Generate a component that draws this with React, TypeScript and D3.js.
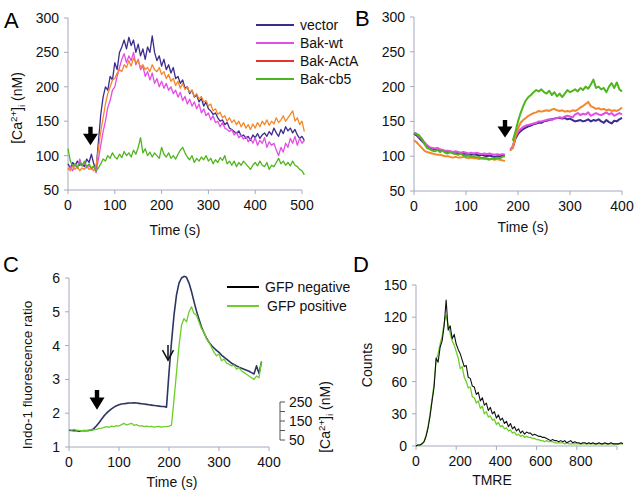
import React from "react";
import * as d3 from "d3";

// ---------- Panel A data (t = 0..505 s, step 5) ----------
const A_STEP = 5;
const A_VECTOR = [
  88, 82, 90, 85, 92, 86, 88, 84, 95, 90,
  102, 88, 80, 120, 160, 185, 200, 195, 215, 210,
  235, 225, 250, 258, 268, 255, 272, 260, 268, 250,
  262, 245, 255, 240, 258, 250, 274, 250, 238, 245,
  230, 240, 225, 232, 220, 228, 212, 215, 205, 210,
  198, 200, 190, 195, 185, 188, 178, 183, 172, 178,
  168, 165, 160, 162, 155, 150, 152, 145, 148, 140,
  138, 135, 132, 136, 128, 130, 125, 128, 122, 130,
  126, 132, 125, 130, 133, 128, 135, 130, 140, 133,
  128, 138, 132, 142, 136, 140, 133, 138, 130, 125,
  128, 122,
];
const A_BAKWT = [
  80, 84, 78, 88, 82, 95, 85, 90, 82, 86,
  80, 84, 75, 95, 115, 135, 150, 170, 180, 195,
  200, 215, 228, 240, 248, 235, 245, 238, 250, 232,
  240, 225, 230, 215, 222, 210, 220, 205, 212, 200,
  208, 198, 205, 195, 200, 190, 195, 185, 192, 180,
  186, 175, 182, 172, 178, 168, 175, 162, 168, 158,
  162, 152, 158, 148, 150, 142, 148, 140, 138, 135,
  138, 130, 134, 126, 130, 124, 128, 120, 125, 118,
  126, 115, 122, 118, 126, 112, 120, 115, 118, 108,
  100, 112, 105, 118, 112, 125, 118, 128, 115, 125,
  118, 122,
];
const A_ACTA = [
  82, 78, 85, 80, 84, 78, 82, 80, 85, 80,
  82, 78, 85, 110, 135, 155, 175, 190, 200, 210,
  212, 220, 225, 222, 232, 228, 238, 230, 242, 235,
  238, 228, 232, 225, 228, 222, 232, 225, 222, 228,
  218, 222, 212, 218, 208, 212, 202, 208, 198, 205,
  196, 200, 192, 195, 186, 190, 182, 186, 178, 180,
  172, 175, 165, 168, 160, 163, 155, 158, 150, 155,
  148, 152, 145, 150, 142, 148, 140, 145, 138, 146,
  140, 148, 142, 150, 145, 152, 144, 150, 146, 155,
  148, 152, 158, 150, 155, 160, 165, 150, 155, 145,
  150, 135,
];
const A_CB5 = [
  110, 92, 85, 88, 82, 90, 85, 92, 84, 88,
  82, 85, 78, 82, 88, 95, 92, 100, 96, 104,
  98, 95, 102, 97, 106, 100, 104, 98, 108, 102,
  112, 126, 104, 110, 100, 105, 98, 104, 100, 96,
  112, 102, 98, 104, 96, 100, 95, 102, 108, 112,
  104, 98, 94, 100, 90, 96, 92, 98, 94, 100,
  92, 96, 88, 94, 90, 97, 93, 100, 88, 92,
  86, 92, 84, 90, 86, 92, 88, 84, 80, 86,
  90, 85, 92, 86, 84, 90, 80, 86, 84, 90,
  96, 88, 92, 86, 90, 85, 92, 86, 84, 80,
  78, 72,
];
const A_X_TICKS = [0, 100, 200, 300, 400, 500];
const A_Y_TICKS = [50, 100, 150, 200, 250, 300];
const A_ARROW = { t: 48, from: 142, to: 115 };

// ---------- Panel B data (t = 0..400 s, step 5) ----------
const B_STEP = 5;
const B_VECTOR = [
  132, 130, 126, 122, 118, 114, 112, 111, 110, 109,
  108, 108, 107, 106, 106, 105, 104, 105, 104, 103,
  104, 103, 102, 103, 102, 101, 102, 101, 100, 101,
  100, 99, 100, 100, 101, 101, null, 110, 112, 125,
  132, 136, 139, 141, 143, 144, 146, 147, 148, 148,
  150, 151, 152, 153, 154, 155, 155, 154, 155, 153,
  154, 152, 150, 151, 152, 150, 151, 153, 150, 152,
  151, 153, 150, 148, 152, 149, 147, 151, 150, 153,
  155,
];
const B_BAKWT = [
  134, 132, 128, 125, 120, 116, 113, 112, 111, 112,
  110, 109, 108, 108, 107, 106, 107, 106, 105, 106,
  105, 104, 105, 104, 105, 104, 103, 104, 103, 104,
  103, 102, 103, 102, 103, 102, null, 108, 115, 128,
  135, 139, 142, 144, 145, 146, 147, 148, 150, 150,
  151, 152, 153, 152, 154, 155, 156, 155, 157, 158,
  157, 156, 160, 162, 159, 161, 160, 163, 158, 160,
  162, 160, 159, 161, 163, 160, 162, 158, 160, 162,
  160,
];
const B_ACTA = [
  123, 120, 116, 112, 108, 106, 105, 104, 103, 102,
  102, 101, 100, 100, 99, 98, 99, 98, 98, 99,
  98, 97, 98, 97, 97, 96, 97, 96, 97, 96,
  96, 95, 96, 95, 94, 93, null, 108, 112, 128,
  140, 148, 152, 155, 158, 160, 162, 163, 165, 164,
  165, 166, 165, 167, 168, 166, 165, 166, 164, 165,
  164, 166, 165, 167, 170, 172, 175, 178, 172, 170,
  168, 169, 167, 168, 166, 167, 165, 166, 165, 167,
  170,
];
const B_CB5 = [
  133, 132, 130, 125, 118, 112, 110, 108, 107, 109,
  106, 108, 105, 104, 106, 104, 103, 102, 104, 101,
  100, 101, 99, 100, 98, 99, 97, 98, 96, 95,
  97, 96, 98, 97, 99, 100, null, null, 122, 135,
  150, 162, 172, 180, 185, 188, 192, 195, 193, 196,
  192, 190, 194, 188, 192, 186, 190, 185, 190, 195,
  192, 194, 196, 193, 198, 195, 200, 197, 203, 210,
  198, 200, 196, 198, 192, 200, 205, 198, 206, 196,
  193,
];
const B_X_TICKS = [0, 100, 200, 300, 400];
const B_Y_TICKS = [50, 100, 150, 200, 250, 300];
const B_ARROW = { t: 175, from: 152, to: 127 };

// ---------- Panel C data (t = 0..385 s, step 5) ----------
const C_STEP = 5;
const C_GFP_NEG = [
  1.5, 1.49, 1.48, 1.48, 1.47, 1.48, 1.48, 1.48, 1.49, 1.5,
  1.55, 1.63, 1.72, 1.82, 1.92, 2.0, 2.07, 2.13, 2.18, 2.22,
  2.25, 2.27, 2.28, 2.29, 2.3, 2.3, 2.31, 2.3, 2.29, 2.28,
  2.27, 2.26, 2.25, 2.24, 2.23, 2.22, 2.21, 2.2, 2.2, 2.18,
  3.2, 4.1, 4.9, 5.5, 5.85, 6.0, 6.05, 6.02, 5.85, 5.6,
  5.3, 5.02, 4.78, 4.55, 4.38, 4.22, 4.1, 4.0, 3.93, 3.86,
  3.8, 3.72, 3.66, 3.6, 3.54, 3.48, 3.44, 3.4, 3.36, 3.33,
  3.3, 3.27, 3.24, 3.2, 3.16, 3.4, 3.18, 3.52,
];
const C_GFP_POS = [
  1.52, 1.5, 1.52, 1.5, 1.49, 1.48, 1.5, 1.49, 1.5, 1.5,
  1.51, 1.52, 1.55, 1.56, 1.58, 1.6, 1.58, 1.62, 1.6, 1.63,
  1.62, 1.66, 1.7, 1.65, 1.68, 1.7, 1.64, 1.66, 1.62, 1.63,
  1.6, 1.62, 1.6, 1.61, 1.59, 1.6, 1.61, 1.59, 1.6, 1.6,
  1.62, 1.65, 2.4, 3.2, 4.0, 4.6, 4.8, 4.7, 5.0, 5.15,
  4.95, 4.9, 4.7, 4.5, 4.4, 4.2, 4.1, 3.95, 3.8, 3.7,
  3.75, 3.55, 3.6, 3.48, 3.45, 3.4, 3.42, 3.3, 3.35, 3.25,
  3.2, 3.15, 3.1, 3.05, 3.0, 3.1, 3.05, 3.55,
];
const C_X_TICKS = [0, 100, 200, 300, 400];
const C_Y_TICKS = [1, 2, 3, 4, 5, 6];
const C_CA_TICKS = [50, 100, 150, 200, 250];
const C_CA_LABELS = [50, 150, 250];
const C_ARROW_FILLED = { t: 56, from: 2.69, to: 2.1 };
const C_ARROW_OPEN = { t: 198, from: 4.02, to: 3.57 };

// ---------- Panel D data (TMRE = 0..1030, step 10) ----------
const D_STEP = 10;
const D_NEG = [
  0, 1, 1, 2, 4, 9, 17, 28, 42, 55,
  82, 78, 92, 98, 112, 136, 108, 112, 100, 104,
  95, 90, 86, 80, 74, 75, 64, 63, 56, 55,
  48, 50, 42, 45, 38, 40, 33, 36, 30, 32,
  26, 29, 24, 26, 21, 23, 18, 21, 16, 18,
  14, 16, 12, 14, 11, 13, 12, 12, 10, 11,
  10, 9, 9, 8, 8, 7, 6, 5, 6, 5,
  5, 4, 5, 4, 5, 3, 4, 5, 3, 4,
  3, 3, 2, 3, 3, 2, 3, 2, 3, 2,
  2, 3, 2, 2, 3, 2, 2, 3, 2, 2,
  2, 2, 3, 2,
];
const D_POS = [
  0, 1, 1, 2, 4, 10, 18, 30, 44, 58,
  80, 86, 95, 102, 115, 122, 112, 105, 98, 94,
  88, 82, 72, 74, 64, 60, 54, 55, 46, 45,
  40, 42, 35, 37, 30, 32, 27, 28, 24, 25,
  20, 22, 18, 19, 16, 17, 14, 15, 12, 13,
  10, 11, 9, 10, 8, 9, 8, 8, 7, 7,
  6, 6, 5, 5, 4, 5, 4, 4, 4, 3,
  3, 3, 3, 3, 2, 3, 2, 2, 2, 2,
  2, 2, 2, 2, 2, 2, 2, 2, 2, 2,
  2, 2, 2, 2, 2, 2, 2, 2, 2, 2,
  2, 2, 2, 2,
];
const D_X_TICKS = [0, 200, 400, 600, 800, 1000];
const D_X_LABELS = [0, 200, 400, 600, 800];
const D_Y_TICKS = [0, 30, 60, 90, 120, 150];

// ---------- styling ----------
const FONT = "'Liberation Sans', Arial, Helvetica, sans-serif";
const AXIS = "#a3aabb";
const C_NAVY = "#3b2c8e";
const C_MAGENTA = "#e34fe6";
const C_RED = "#e5322c";
const C_ORANGE = "#f4872a";
const C_GREEN = "#4fb51f";
const C_DARKNAVY = "#2d3563";
const C_LIGHTGREEN = "#6ccf2a";
const FS = 14;

type Sc = d3.ScaleLinear<number, number>;

function toPts(vals: (number | null)[], step: number): [number, number | null][] {
  return vals.map((v, i) => [i * step, v]);
}

function Series({ vals, step, x, y, color, width }: { vals: (number | null)[]; step: number; x: Sc; y: Sc; color: string; width: number }) {
  const line = d3
    .line<[number, number | null]>()
    .defined((d) => d[1] !== null)
    .x((d) => x(d[0]))
    .y((d) => y(d[1] as number));
  return <path d={line(toPts(vals, step)) || ""} fill="none" stroke={color} strokeWidth={width} strokeLinejoin="round" />;
}

function Axes({ x, y, xTicks, xLabels, yTicks, xLabelDx = 0 }: { x: Sc; y: Sc; xTicks: number[]; xLabels: number[]; yTicks: number[]; xLabelDx?: number }) {
  const [x0, x1] = x.range();
  const [y0, y1] = y.range();
  return (
    <g fontFamily={FONT} fontSize={FS} fill="#111">
      <line x1={x0} x2={x0} y1={y1} y2={y0} stroke={AXIS} strokeWidth={1} />
      <line x1={x0} x2={x1} y1={y0} y2={y0} stroke={AXIS} strokeWidth={1} />
      {yTicks.map((t) => (
        <g key={"y" + t}>
          <line x1={x0 - 4} x2={x0} y1={y(t)} y2={y(t)} stroke={AXIS} />
          <text x={x0 - 9} y={y(t)} dy="0.36em" textAnchor="end">{t}</text>
        </g>
      ))}
      {xTicks.map((t) => (
        <line key={"xt" + t} x1={x(t)} x2={x(t)} y1={y0} y2={y0 + 4} stroke={AXIS} />
      ))}
      {xLabels.map((t) => (
        <text key={"xl" + t} x={x(t) + (t === 0 ? 0 : xLabelDx)} y={y0 + 20} textAnchor="middle">{t}</text>
      ))}
    </g>
  );
}

function FilledArrow({ x, y1, y2 }: { x: number; y1: number; y2: number }) {
  const head = (y2 - y1) * 0.62;
  const hw = 7.5;
  const sw = 2.2;
  const d = `M${x - sw},${y1} L${x + sw},${y1} L${x + sw},${y2 - head} L${x + hw},${y2 - head} L${x},${y2} L${x - hw},${y2 - head} L${x - sw},${y2 - head} Z`;
  return <path d={d} fill="#000" />;
}

function OpenArrow({ x, y1, y2 }: { x: number; y1: number; y2: number }) {
  return (
    <g stroke="#111" strokeWidth={1.5} fill="none">
      <line x1={x} x2={x} y1={y1} y2={y2} />
      <polyline points={`${x - 5.5},${y2 - 10} ${x},${y2} ${x + 5.5},${y2 - 10}`} />
    </g>
  );
}

function CaLabel({ x, y, size = FS }: { x: number; y: number; size?: number }) {
  return (
    <text transform={`translate(${x},${y}) rotate(-90)`} textAnchor="middle" fontFamily={FONT} fontSize={size} fill="#111">
      [Ca<tspan fontSize={size * 0.7} dy={-5}>2+</tspan>
      <tspan dy={5}>]</tspan>
      <tspan fontSize={size * 0.7} dy={3}>i</tspan>
      <tspan dy={-3}> (nM)</tspan>
    </text>
  );
}

export default function App() {
  // Panel A
  const ax = d3.scaleLinear().domain([0, 500]).range([68, 302]);
  const ay = d3.scaleLinear().domain([50, 300]).range([190, 18]);
  // Panel B
  const bx = d3.scaleLinear().domain([0, 400]).range([414, 622]);
  const by = d3.scaleLinear().domain([50, 300]).range([191, 17]);
  // Panel C
  const cx = d3.scaleLinear().domain([0, 400]).range([69, 269]);
  const cy = d3.scaleLinear().domain([1, 6]).range([447, 278]);
  const caY = d3.scaleLinear().domain([50, 250]).range([440, 402]);
  // Panel D
  const dx = d3.scaleLinear().domain([0, 1000]).range([416, 617]);
  const dy = d3.scaleLinear().domain([0, 150]).range([446, 285]);

  const legendA = [
    { name: "vector", color: C_NAVY },
    { name: "Bak-wt", color: C_MAGENTA },
    { name: "Bak-ActA", color: C_RED },
    { name: "Bak-cb5", color: C_GREEN },
  ];
  const legendC = [
    { name: "GFP negative", color: "#000", dx: 0 },
    { name: "GFP positive", color: C_LIGHTGREEN, dx: 2 },
  ];

  return (
    <svg width={640} height={491} style={{ position: "absolute", left: 0, top: 0, background: "#fff" }} fontFamily={FONT}>
      <rect width={640} height={491} fill="#fff" />
      {/* Panel letters */}
      <g fontFamily={FONT} fontSize={22} fill="#000">
        <text x={4} y={28}>A</text>
        <text x={355} y={26}>B</text>
        <text x={3} y={272}>C</text>
        <text x={353} y={272}>D</text>
      </g>

      {/* ---------- A ---------- */}
      <Axes x={ax} y={ay} xTicks={A_X_TICKS} xLabels={A_X_TICKS} yTicks={A_Y_TICKS} />
      <Series vals={A_VECTOR} step={A_STEP} x={ax} y={ay} color={C_NAVY} width={1.3} />
      <Series vals={A_BAKWT} step={A_STEP} x={ax} y={ay} color={C_MAGENTA} width={1.3} />
      <Series vals={A_ACTA} step={A_STEP} x={ax} y={ay} color={C_ORANGE} width={1.3} />
      <Series vals={A_CB5} step={A_STEP} x={ax} y={ay} color={C_GREEN} width={1.3} />
      <FilledArrow x={ax(A_ARROW.t)} y1={ay(A_ARROW.from)} y2={ay(A_ARROW.to)} />
      <CaLabel x={22} y={108} />
      <text x={175} y={235} textAnchor="middle" fontSize={FS} fill="#111">Time (s)</text>
      {legendA.map((l, i) => (
        <g key={l.name}>
          <line x1={256} x2={294} y1={25 + i * 18} y2={25 + i * 18} stroke={l.color} strokeWidth={2} />
          <text x={300} y={25 + i * 18} dy="0.36em" fontSize={FS} fill="#111">{l.name}</text>
        </g>
      ))}

      {/* ---------- B ---------- */}
      <Axes x={bx} y={by} xTicks={B_X_TICKS} xLabels={B_X_TICKS} yTicks={B_Y_TICKS} />
      <Series vals={B_VECTOR} step={B_STEP} x={bx} y={by} color={C_NAVY} width={2} />
      <Series vals={B_BAKWT} step={B_STEP} x={bx} y={by} color={C_MAGENTA} width={2} />
      <Series vals={B_ACTA} step={B_STEP} x={bx} y={by} color={C_ORANGE} width={2} />
      <Series vals={B_CB5} step={B_STEP} x={bx} y={by} color={C_GREEN} width={2} />
      <FilledArrow x={bx(B_ARROW.t)} y1={by(B_ARROW.from)} y2={by(B_ARROW.to)} />
      <text x={523} y={232} textAnchor="middle" fontSize={FS} fill="#111">Time (s)</text>

      {/* ---------- C ---------- */}
      <Axes x={cx} y={cy} xTicks={C_X_TICKS} xLabels={C_X_TICKS} yTicks={C_Y_TICKS} />
      <Series vals={C_GFP_NEG} step={C_STEP} x={cx} y={cy} color={C_DARKNAVY} width={1.6} />
      <Series vals={C_GFP_POS} step={C_STEP} x={cx} y={cy} color={C_LIGHTGREEN} width={1.3} />
      <FilledArrow x={cx(C_ARROW_FILLED.t)} y1={cy(C_ARROW_FILLED.from)} y2={cy(C_ARROW_FILLED.to)} />
      <OpenArrow x={cx(C_ARROW_OPEN.t)} y1={cy(C_ARROW_OPEN.from)} y2={cy(C_ARROW_OPEN.to)} />
      <text transform="translate(32,375) rotate(-90)" textAnchor="middle" fontSize={13.5} fill="#111">Indo-1 fluorescence ratio</text>
      <text x={172} y={487} textAnchor="middle" fontSize={FS} fill="#111">Time (s)</text>
      {legendC.map((l, i) => (
        <g key={l.name}>
          <line x1={227} x2={259} y1={287 + i * 19} y2={287 + i * 19} stroke={l.color} strokeWidth={2} />
          <text x={265 + l.dx} y={287 + i * 19} dy="0.36em" fontSize={FS} fill="#111">{l.name}</text>
        </g>
      ))}
      {/* secondary [Ca2+]i scale */}
      <g>
        <line x1={280} x2={280} y1={caY(250)} y2={caY(50)} stroke="#555" />
        {C_CA_TICKS.map((t) => (
          <line key={t} x1={280} x2={285} y1={caY(t)} y2={caY(t)} stroke="#555" />
        ))}
        {C_CA_LABELS.map((t) => (
          <text key={t} x={289} y={caY(t)} dy="0.36em" fontSize={FS} fill="#111">{t}</text>
        ))}
      </g>
      <CaLabel x={330} y={417} />

      {/* ---------- D ---------- */}
      <Axes x={dx} y={dy} xTicks={D_X_TICKS} xLabels={D_X_LABELS} yTicks={D_Y_TICKS} xLabelDx={4} />
      <Series vals={D_POS} step={D_STEP} x={dx} y={dy} color={C_LIGHTGREEN} width={1.3} />
      <Series vals={D_NEG} step={D_STEP} x={dx} y={dy} color="#111" width={1.1} />
      <text transform="translate(372,365) rotate(-90)" textAnchor="middle" fontSize={FS} fill="#111">Counts</text>
      <text x={492} y={485} textAnchor="middle" fontSize={FS} fill="#111">TMRE</text>
    </svg>
  );
}
